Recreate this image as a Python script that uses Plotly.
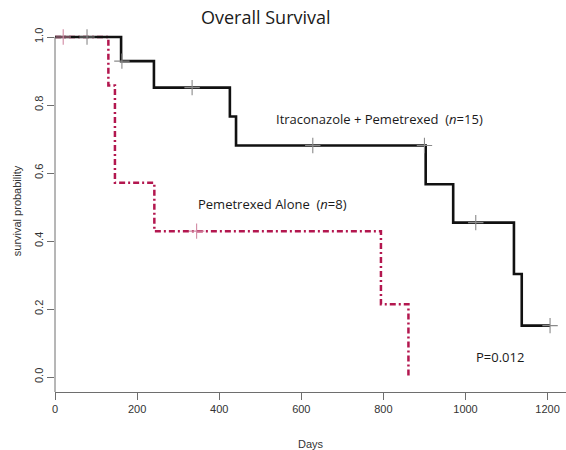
import plotly.graph_objects as go

# Itraconazole + Pemetrexed (n=15) Kaplan-Meier steps
itra_days = [0, 161, 241, 426, 441, 903, 970, 1118, 1137, 1206]
itra_surv = [1.0, 0.929, 0.851, 0.766, 0.681, 0.567, 0.454, 0.303, 0.151, 0.151]
itra_cens_days = [78, 163, 334, 628, 900, 1025, 1206]
itra_cens_surv = [1.0, 0.929, 0.851, 0.681, 0.681, 0.454, 0.151]

# Pemetrexed alone (n=8)
pem_days = [0, 130, 146, 242, 794, 861]
pem_surv = [1.0, 0.857, 0.571, 0.429, 0.214, 0.0]
pem_cens_days = [20, 345]
pem_cens_surv = [1.0, 0.429]

x_ticks = [0, 200, 400, 600, 800, 1000, 1200]
y_ticks = [0.0, 0.2, 0.4, 0.6, 0.8, 1.0]
y_ticklabels = ["0.0", "0.2", "0.4", "0.6", "0.8", "1.0"]

BLACK = "#111111"
RED = "#b3174f"
AX = "#6e6e6e"
L, R, T, B = 55, 0, 30, 58
W, H = 566, 450
pw = W - L - R
ph = H - T - B

fig = go.Figure()
fig.add_trace(go.Scatter(x=pem_days, y=pem_surv, mode="lines", line_shape="hv",
                         line=dict(color=RED, width=2.5, dash="6px,3px,2px,3px"), showlegend=False))
fig.add_trace(go.Scatter(x=itra_days, y=itra_surv, mode="lines", line_shape="hv",
                         line=dict(color=BLACK, width=2.6), showlegend=False))
fig.add_trace(go.Scatter(x=pem_cens_days, y=pem_cens_surv, mode="markers", cliponaxis=False,
                         marker=dict(symbol="cross-thin", size=11, line=dict(color="#d28aa4", width=1.1)),
                         showlegend=False))
fig.add_trace(go.Scatter(x=itra_cens_days, y=itra_cens_surv, mode="markers", cliponaxis=False,
                         marker=dict(symbol="cross-thin", size=11, line=dict(color="#8a8a8a", width=1.1)),
                         showlegend=False))

x_max = pw / 0.4105
y_lo = -15 / 340
y_hi = 1 + 7 / 340

def px(xp):
    return (xp - L) / pw

def py(yp):
    return (H - B - yp) / ph

ann_font = "Open Sans, Lato, sans-serif"
fig.update_layout(
    width=W, height=H,
    margin=dict(l=L, r=R, t=T, b=B),
    paper_bgcolor="white", plot_bgcolor="white",
    font=dict(family="Liberation Sans, Arial, sans-serif", color="#333333", size=11),
    xaxis=dict(range=[0, x_max], tickvals=x_ticks, ticks="outside", ticklen=7, tickcolor=AX,
               showline=True, linecolor=AX, linewidth=1, showgrid=False, zeroline=False,
               automargin=False,
               tickfont=dict(size=11, color="#333333"),
               title=dict(text="Days", font=dict(size=11, color="#333333"), standoff=27)),
    yaxis=dict(range=[y_lo, y_hi], tickvals=y_ticks, ticktext=y_ticklabels, ticks="outside",
               ticklen=7, tickcolor=AX, tickangle=-90, showline=False, showgrid=False,
               zeroline=False, automargin=False, tickfont=dict(size=11, color="#333333"),
               title=dict(text="survival probability", font=dict(size=11, color="#333333"), standoff=8)),
    shapes=[dict(type="line", xref="paper", yref="y", x0=0, x1=0, y0=y_lo, y1=1.0,
                 line=dict(color=AX, width=1))],
    annotations=[
        dict(text="Overall Survival", xref="paper", yref="paper", x=px(266), y=py(17),
             showarrow=False, xanchor="center", yanchor="middle",
             font=dict(family=ann_font, size=18, color="#1a1a1a")),
        dict(text="Itraconazole + Pemetrexed  (<i>n</i>=15)", xref="paper", yref="paper",
             x=px(274), y=py(119), showarrow=False, xanchor="left", yanchor="middle",
             font=dict(family=ann_font, size=13, color="#1a1a1a")),
        dict(text="Pemetrexed Alone  (<i>n</i>=8)", xref="paper", yref="paper",
             x=px(196), y=py(204), showarrow=False, xanchor="left", yanchor="middle",
             font=dict(family=ann_font, size=13, color="#1a1a1a")),
        dict(text="P=0.012", xref="paper", yref="paper",
             x=px(474), y=py(357), showarrow=False, xanchor="left", yanchor="middle",
             font=dict(family=ann_font, size=13, color="#1a1a1a")),
    ],
)

fig.write_html("out.html", config={"displayModeBar": False},
               post_script="document.body.style.margin='0';document.body.style.overflow='hidden';")
